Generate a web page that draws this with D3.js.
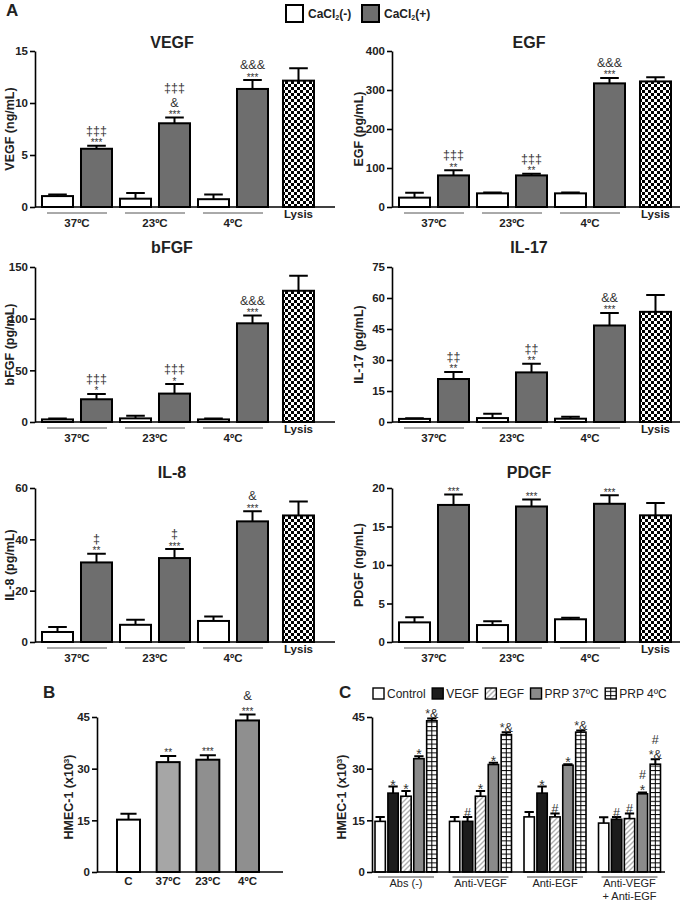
<!DOCTYPE html>
<html>
<head>
<meta charset="UTF-8">
<script src="https://cdnjs.cloudflare.com/ajax/libs/d3/7.8.5/d3.min.js"></script>
<style>
    body { margin: 0; background: #fff; }
    svg { font-family: "Liberation Sans", Arial, sans-serif; }
</style>
</head>
<body>
<div id="chart"></div>
<script>
// ---- panel A data ----
const barKeys = ['37-', '37+', '23-', '23+', '4-', '4+', 'Lysis'];
const tempLabels = ['37ºC', '23ºC', '4ºC'];

const vegfTicks = [0, 5, 10, 15];
const vegfMean = [1.05, 5.6, 0.8, 8.05, 0.75, 11.35, 12.15];
const vegfSem = [0.15, 0.3, 0.55, 0.55, 0.45, 0.85, 1.2];
const vegfMarks = [[], ['‡‡‡', '***'], [], ['‡‡‡', '&', '***'], [], ['&&&', '***'], []];

const egfTicks = [0, 100, 200, 300, 400];
const egfMean = [24, 81, 35, 81, 35, 317, 322];
const egfSem = [12.5, 13, 2, 4, 2, 14, 11];
const egfMarks = [[], ['‡‡‡', '**'], [], ['‡‡‡', '**'], [], ['&&&', '***'], []];

const bfgfTicks = [0, 50, 100, 150];
const bfgfMean = [2.5, 22, 3.5, 27.5, 2.5, 95.5, 127];
const bfgfSem = [0.9, 5.2, 2.5, 9.2, 0.9, 7.5, 14.5];
const bfgfMarks = [[], ['‡‡‡', '*'], [], ['‡‡‡', '*'], [], ['&&&', '***'], []];

const il17Ticks = [0, 15, 30, 45, 60, 75];
const il17Mean = [1.5, 20.8, 1.9, 24, 1.6, 46.7, 53.3];
const il17Sem = [0.3, 3.4, 2.1, 4.2, 1.0, 6.1, 8.1];
const il17Marks = [[], ['‡‡', '**'], [], ['‡‡', '**'], [], ['&&', '***'], []];

const il8Ticks = [0, 20, 40, 60];
const il8Mean = [3.9, 31, 6.7, 32.7, 8.2, 47, 49.3];
const il8Sem = [1.9, 3.4, 2.0, 3.5, 1.7, 3.9, 5.4];
const il8Marks = [[], ['‡', '**'], [], ['‡', '***'], [], ['&', '***'], []];

const pdgfTicks = [0, 5, 10, 15, 20];
const pdgfMean = [2.55, 17.8, 2.2, 17.6, 2.95, 17.95, 16.45];
const pdgfSem = [0.65, 1.35, 0.5, 0.9, 0.2, 1.1, 1.6];
const pdgfMarks = [[], ['***'], [], ['***'], [], ['***'], []];

// ---- panel B data ----
const bCats = ['C', '37ºC', '23ºC', '4ºC'];
const bTicks = [0, 15, 30, 45];
const bMean = [15.2, 31.9, 32.6, 44.0];
const bSem = [1.7, 1.8, 1.3, 1.7];
const bMarks = [[], ['**'], ['***'], ['&', '***']];

// ---- panel C data ----
const cGroups = ['Abs (-)', 'Anti-VEGF', 'Anti-EGF', 'Anti-VEGF\n+ Anti-EGF'];
const cTreat = ['Control', 'VEGF', 'EGF', 'PRP 37ºC', 'PRP 4ºC'];
const cTicks = [0, 15, 30, 45];
const cMean = {
    'Control':  [14.7, 14.7, 16.0, 14.2],
    'VEGF':     [22.9, 14.7, 22.9, 15.3],
    'EGF':      [22.0, 22.0, 16.0, 15.5],
    'PRP 37ºC': [32.9, 31.2, 31.0, 22.7],
    'PRP 4ºC':  [43.9, 39.9, 40.6, 31.3]
};
const cSem = {
    'Control':  [1.3, 1.3, 1.4, 1.7],
    'VEGF':     [1.9, 1.3, 1.9, 0.7],
    'EGF':      [1.5, 1.5, 1.0, 1.5],
    'PRP 37ºC': [0.7, 0.5, 0.3, 0.4],
    'PRP 4ºC':  [0.7, 0.7, 0.5, 1.4]
};
const cMarks = {
    'Control':  [[], [], [], []],
    'VEGF':     [['*'], ['#'], ['*'], ['#']],
    'EGF':      [['*'], ['*'], ['#'], ['#']],
    'PRP 37ºC': [['*'], ['*'], ['*'], ['#', '*']],
    'PRP 4ºC':  [['*&'], ['*&'], ['*&'], ['#', '*&']]
};

// ---- setup ----
const FONT = '"Liberation Sans", Arial, sans-serif';
const grayA = '#6e6e6e';
const svg = d3.select('#chart').append('svg')
    .attr('width', 685)
    .attr('height', 901);

const defs = svg.append('defs');
const chk = defs.append('pattern').attr('id', 'checker')
    .attr('patternUnits', 'userSpaceOnUse').attr('width', 6).attr('height', 6);
chk.append('rect').attr('width', 6).attr('height', 6).attr('fill', '#fff');
chk.append('rect').attr('width', 3).attr('height', 3).attr('fill', '#000');
chk.append('rect').attr('x', 3).attr('y', 3).attr('width', 3).attr('height', 3).attr('fill', '#000');

const hat = defs.append('pattern').attr('id', 'hatch')
    .attr('patternUnits', 'userSpaceOnUse').attr('width', 5).attr('height', 5);
hat.append('rect').attr('width', 5).attr('height', 5).attr('fill', '#fff');
hat.append('path').attr('d', 'M-1,1 l2,-2 M0,5 l5,-5 M4,6 l2,-2')
    .attr('stroke', '#b0b0b0').attr('stroke-width', 1.4);

const grd = defs.append('pattern').attr('id', 'rows')
    .attr('patternUnits', 'userSpaceOnUse').attr('width', 4).attr('height', 4.4);
grd.append('rect').attr('width', 4).attr('height', 4.4).attr('fill', '#fff');
grd.append('line').attr('x1', 0).attr('x2', 4).attr('y1', 0.5).attr('y2', 0.5)
    .attr('stroke', '#000').attr('stroke-width', 1);

function yAxis(g, y, ticks, size) {
    g.call(d3.axisLeft(y).tickValues(ticks).tickSize(5).tickSizeOuter(0).tickPadding(2));
    g.attr('font-size', size).attr('font-family', FONT).attr('font-weight', 'bold');
    g.select('.domain').attr('stroke-width', 1.6);
    g.selectAll('.tick line').attr('stroke-width', 1.6);
    g.selectAll('.tick text').attr('fill', '#222');
}

function yLabel(parts, x, yMid, size) {
    const t = svg.append('text')
        .attr('transform', `translate(${x},${yMid}) rotate(-90)`)
        .attr('text-anchor', 'middle').attr('dy', '0.35em')
        .attr('font-size', size).attr('font-weight', 'bold').attr('fill', '#222');
    parts.forEach(p => {
        const s = t.append('tspan').text(p[0]);
        if (p[1]) s.attr('baseline-shift', p[1]).attr('font-size', size * 0.65);
    });
}

// stacked significance marks above a point: one text, one tspan per line, bottom-up
function stackMarks(g, cx, top, marks, opt) {
    if (!marks.length) return;
    const t = g.append('text').attr('text-anchor', 'middle').attr('fill', '#333');
    let center = top - opt.first;
    marks.slice().reverse().forEach(m => {
        const st = opt.style(m);
        t.append('tspan')
            .attr('x', cx).attr('y', center + st.off)
            .attr('font-size', st.size)
            .text(m);
        center -= st.next;
    });
}

const styleA = m => m[0] === '*' ? {size: 10, off: 6, next: 9.5} : {size: 12.5, off: 4, next: 15};
const styleC = m => m === '*' ? {size: 14, off: 8, next: 13} : {size: 12.5, off: 5, next: 15};

// ---- panel A ----
const colLayout = [{axis: 35, end: 335, label: 10}, {axis: 392, end: 680, label: 359}];
const rowLayout = [{top: 51, bottom: 207, title: 48}, {top: 267, bottom: 422, title: 253}, {top: 488, bottom: 642, title: 478}];

const panelsA = [
    {title: 'VEGF', unit: 'VEGF (ng/mL)', ticks: vegfTicks, mean: vegfMean, sem: vegfSem, marks: vegfMarks, col: 0, row: 0},
    {title: 'EGF', unit: 'EGF (pg/mL)', ticks: egfTicks, mean: egfMean, sem: egfSem, marks: egfMarks, col: 1, row: 0},
    {title: 'bFGF', unit: 'bFGF (pg/mL)', ticks: bfgfTicks, mean: bfgfMean, sem: bfgfSem, marks: bfgfMarks, col: 0, row: 1},
    {title: 'IL-17', unit: 'IL-17 (pg/mL)', ticks: il17Ticks, mean: il17Mean, sem: il17Sem, marks: il17Marks, col: 1, row: 1},
    {title: 'IL-8', unit: 'IL-8 (pg/mL)', ticks: il8Ticks, mean: il8Mean, sem: il8Sem, marks: il8Marks, col: 0, row: 2},
    {title: 'PDGF', unit: 'PDGF (ng/mL)', ticks: pdgfTicks, mean: pdgfMean, sem: pdgfSem, marks: pdgfMarks, col: 1, row: 2}
];

function drawA(p) {
    const c = colLayout[p.col], r = rowLayout[p.row];
    const g = svg.append('g');
    const x = d3.scaleBand().domain(barKeys)
        .range([c.axis + 7, c.axis + 272]).paddingInner(0.205).paddingOuter(0);
    const bw = x.bandwidth();
    const bx = k => x(k) + (k === 'Lysis' ? 7 : 0);
    const y = d3.scaleLinear().domain([0, d3.max(p.ticks)]).range([r.bottom, r.top]);
    const rows = barKeys.map((k, i) => ({k, i, m: p.mean[i], e: p.sem[i], marks: p.marks[i]}));

    g.selectAll('path.err').data(rows).join('path').attr('class', 'err')
        .attr('d', d => {
            const cx = bx(d.k) + bw / 2, t = y(d.m + d.e);
            return `M${cx},${y(d.m)}V${t}M${cx - bw * 0.3},${t}H${cx + bw * 0.3}`;
        })
        .attr('stroke', '#000').attr('stroke-width', 2).attr('fill', 'none');

    g.selectAll('rect.bar').data(rows).join('rect').attr('class', 'bar')
        .attr('x', d => bx(d.k)).attr('y', d => y(d.m))
        .attr('width', bw).attr('height', d => y(0) - y(d.m))
        .attr('fill', d => d.k === 'Lysis' ? 'url(#checker)' : (d.i % 2 ? grayA : '#fff'))
        .attr('stroke', '#000').attr('stroke-width', 2);

    rows.forEach(d => stackMarks(g, bx(d.k) + bw / 2, y(d.m + d.e), d.marks,
        {first: 5.5, style: styleA}));

    yAxis(g.append('g').attr('transform', `translate(${c.axis},0)`), y, p.ticks, 11.5);
    g.append('line').attr('x1', c.axis).attr('x2', c.end)
        .attr('y1', r.bottom).attr('y2', r.bottom)
        .attr('stroke', '#000').attr('stroke-width', 1.6);

    tempLabels.forEach((t, j) => {
        const x0 = bx(barKeys[2 * j]) + 5, x1 = bx(barKeys[2 * j + 1]) + bw - 5;
        g.append('line').attr('x1', x0).attr('x2', x1)
            .attr('y1', r.bottom + 6).attr('y2', r.bottom + 6)
            .attr('stroke', '#555').attr('stroke-width', 1);
        g.append('text').attr('x', (x0 + x1) / 2).attr('y', r.bottom + 20)
            .attr('text-anchor', 'middle').attr('font-size', 11.5)
            .attr('font-weight', 'bold').attr('fill', '#222').text(t);
    });
    g.append('text').attr('x', bx('Lysis') + bw / 2).attr('y', r.bottom + 11)
        .attr('text-anchor', 'middle').attr('font-size', 11.5)
        .attr('font-weight', 'bold').attr('fill', '#222').text('Lysis');

    g.append('text').attr('x', (x.range()[0] + bx('Lysis') + bw) / 2 - 6).attr('y', r.title)
        .attr('text-anchor', 'middle').attr('font-size', 16)
        .attr('font-weight', 'bold').attr('fill', '#222').text(p.title);

    yLabel([[p.unit]], c.label, (r.top + r.bottom) / 2, 12.5);
}
panelsA.forEach(drawA);

// panel letters and legend A
[['A', 6, 16], ['B', 43, 698], ['C', 339, 698]].forEach(([t, x, y]) =>
    svg.append('text').attr('x', x).attr('y', y).attr('font-size', 17)
        .attr('font-weight', 'bold').attr('fill', '#222').text(t));

const legA = [{fill: '#fff', sign: '(-)', x: 286}, {fill: grayA, sign: '(+)', x: 362}];
legA.forEach(l => {
    svg.append('rect').attr('x', l.x).attr('y', 5).attr('width', 17).attr('height', 17)
        .attr('fill', l.fill).attr('stroke', '#000').attr('stroke-width', 2);
    const t = svg.append('text').attr('x', l.x + 22).attr('y', 18)
        .attr('font-size', 12).attr('font-weight', 'bold').attr('fill', '#222');
    t.append('tspan').text('CaCl');
    t.append('tspan').attr('font-size', 7).attr('dy', 2).text('2');
    t.append('tspan').attr('dy', -2).text(l.sign);
});

// ---- panel B ----
(function () {
    const g = svg.append('g');
    const x = d3.scaleBand().domain(bCats).range([117, 259]).paddingInner(0.42);
    const y = d3.scaleLinear().domain([0, 45]).range([872, 717]);
    const bw = x.bandwidth();
    const fills = ['#fff', '#a6a6a6', '#8f8f8f', '#8f8f8f'];
    const rows = bCats.map((k, i) => ({k, i, m: bMean[i], e: bSem[i], marks: bMarks[i]}));
    g.selectAll('path').data(rows).join('path')
        .attr('d', d => {
            const cx = x(d.k) + bw / 2, t = y(d.m + d.e);
            return `M${cx},${y(d.m)}V${t}M${cx - bw * 0.35},${t}H${cx + bw * 0.35}`;
        })
        .attr('stroke', '#000').attr('stroke-width', 2).attr('fill', 'none');
    g.selectAll('rect').data(rows).join('rect')
        .attr('x', d => x(d.k)).attr('y', d => y(d.m))
        .attr('width', bw).attr('height', d => y(0) - y(d.m))
        .attr('fill', d => fills[d.i]).attr('stroke', '#000').attr('stroke-width', 2);
    rows.forEach(d => stackMarks(g, x(d.k) + bw / 2, y(d.m + d.e), d.marks,
        {first: 6, style: m => m[0] === '*' ? {size: 10, off: 6, next: 13} : {size: 13, off: 4, next: 12}}));
    yAxis(g.append('g').attr('transform', 'translate(97,0)'), y, bTicks, 11.5);
    g.append('line').attr('x1', 97).attr('x2', 283).attr('y1', 872).attr('y2', 872)
        .attr('stroke', '#000').attr('stroke-width', 1.6);
    g.selectAll('text.xl').data(bCats).join('text').attr('class', 'xl')
        .attr('x', d => x(d) + bw / 2).attr('y', 885).attr('text-anchor', 'middle')
        .attr('font-size', 11.5).attr('font-weight', 'bold').attr('fill', '#222').text(d => d);
    yLabel([['HMEC-1 (x10'], ['3', 'super'], [')']], 69, 797, 12.5);
})();

// ---- panel C ----
(function () {
    const g = svg.append('g');
    const xg = d3.scaleBand().domain(cGroups).range([375, 660.5]).paddingInner(0.168);
    const xt = d3.scaleBand().domain(cTreat).range([0, xg.bandwidth()]).paddingInner(0.2);
    const y = d3.scaleLinear().domain([0, 45]).range([872, 717]);
    const bw = xt.bandwidth();
    const fills = {'Control': '#fff', 'VEGF': '#1c1c1c', 'EGF': 'url(#hatch)', 'PRP 37ºC': '#8a8a8a', 'PRP 4ºC': 'url(#rows)'};
    const rows = [];
    cGroups.forEach((gr, gi) => cTreat.forEach(t => rows.push({
        g: gr, t, x: xg(gr) + xt(t), m: cMean[t][gi], e: cSem[t][gi], marks: cMarks[t][gi]
    })));
    g.selectAll('path.err').data(rows).join('path').attr('class', 'err')
        .attr('d', d => {
            const cx = d.x + bw / 2, t = y(d.m + d.e);
            return `M${cx},${y(d.m)}V${t}M${cx - bw * 0.45},${t}H${cx + bw * 0.45}`;
        })
        .attr('stroke', '#000').attr('stroke-width', 2).attr('fill', 'none');
    g.selectAll('rect.bar').data(rows).join('rect').attr('class', 'bar')
        .attr('x', d => d.x).attr('y', d => y(d.m))
        .attr('width', bw).attr('height', d => y(0) - y(d.m))
        .attr('fill', d => fills[d.t]).attr('stroke', '#000').attr('stroke-width', 1.6);
    g.selectAll('line.mid').data(rows.filter(d => d.t === 'PRP 4ºC')).join('line').attr('class', 'mid')
        .attr('x1', d => d.x + bw / 2).attr('x2', d => d.x + bw / 2)
        .attr('y1', d => y(d.m)).attr('y2', y(0))
        .attr('stroke', '#000').attr('stroke-width', 1);
    rows.forEach(d => stackMarks(g, d.x + bw / 2, y(d.m + d.e), d.marks,
        {first: 5, style: styleC}));
    yAxis(g.append('g').attr('transform', 'translate(372,0)'), y, cTicks, 11.5);
    g.append('line').attr('x1', 372).attr('x2', 665).attr('y1', 872).attr('y2', 872)
        .attr('stroke', '#000').attr('stroke-width', 1.6);
    cGroups.forEach(gr => {
        const x0 = xg(gr) + 3, x1 = xg(gr) + xg.bandwidth() - 3;
        g.append('line').attr('x1', x0).attr('x2', x1).attr('y1', 877).attr('y2', 877)
            .attr('stroke', '#444').attr('stroke-width', 1);
        gr.split('\n').forEach((ln, li) => g.append('text')
            .attr('x', (x0 + x1) / 2).attr('y', 887 + li * 13).attr('text-anchor', 'middle')
            .attr('font-size', 11).attr('fill', '#222').text(ln));
    });
    yLabel([['HMEC-1 (x10'], ['3', 'super'], [')']], 342, 797, 12.5);

    // legend
    let lx = 373;
    cTreat.forEach(t => {
        g.append('rect').attr('x', lx).attr('y', 688).attr('width', 11).attr('height', 11)
            .attr('fill', fills[t]).attr('stroke', '#000').attr('stroke-width', 1.4);
        if (t === 'PRP 4ºC') {
            g.append('line').attr('x1', lx + 5.5).attr('x2', lx + 5.5).attr('y1', 688).attr('y2', 699)
                .attr('stroke', '#000').attr('stroke-width', 1);
        }
        const txt = g.append('text').attr('x', lx + 14).attr('y', 698)
            .attr('font-size', 12).attr('fill', '#222').text(t);
        lx += 14 + txt.node().getComputedTextLength() + 6.5;
    });
})();
</script>
</body>
</html>
